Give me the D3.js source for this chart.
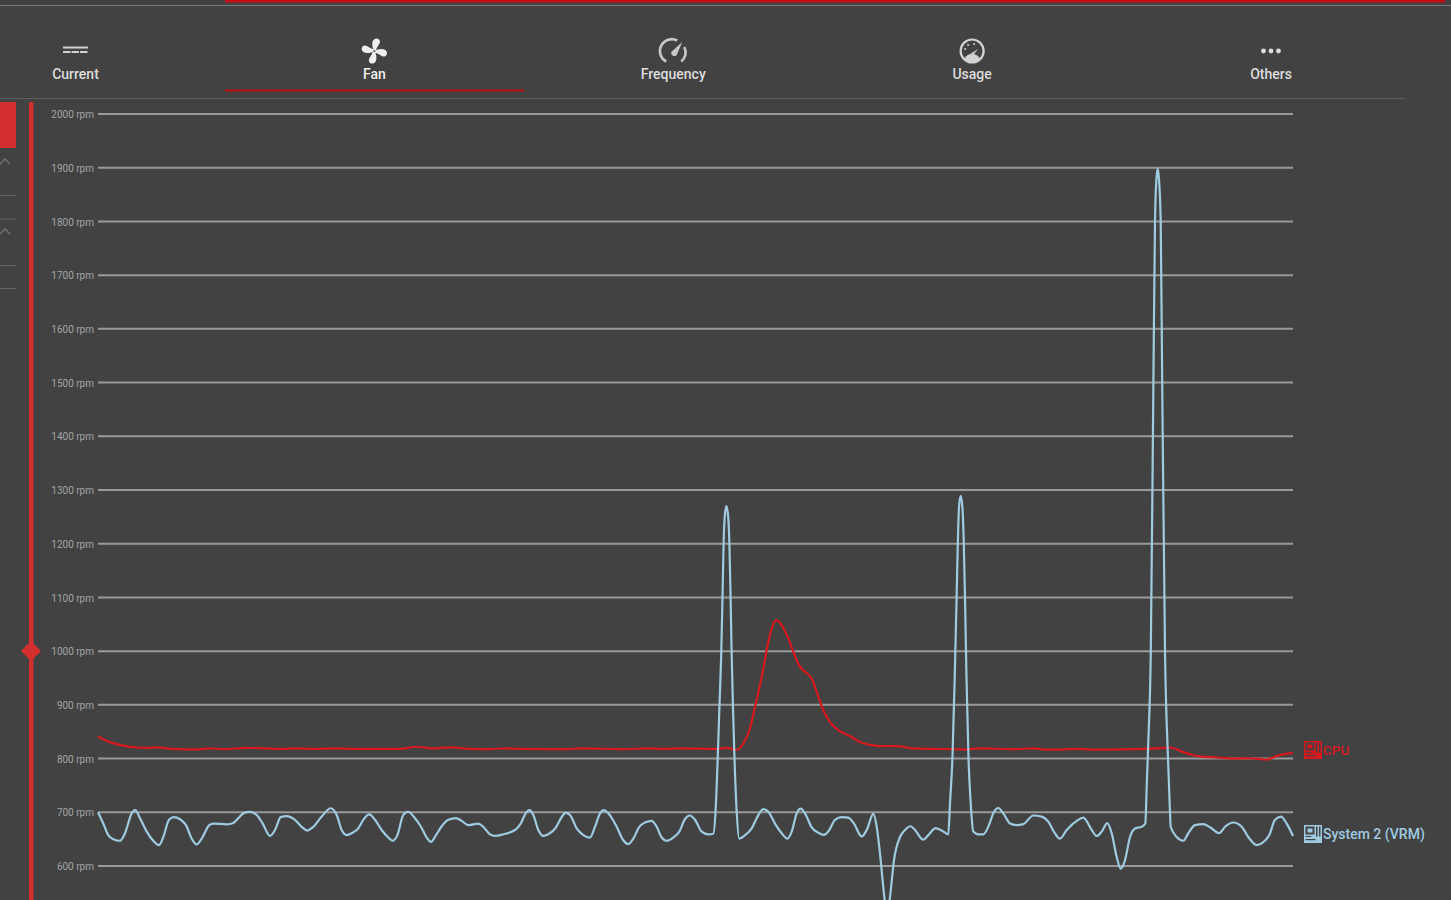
<!DOCTYPE html>
<html><head><meta charset="utf-8">
<script src="https://cdn.jsdelivr.net/npm/d3@7"></script>
<style>
html,body{margin:0;padding:0;background:#424242;overflow:hidden}
svg{display:block;font-family:Roboto,sans-serif}
</style></head><body><svg id="c" width="1451" height="900"></svg>
<script>
const tabLabels=["Current","Fan","Frequency","Usage","Others"];
const rpmTicks=[600,700,800,900,1000,1100,1200,1300,1400,1500,1600,1700,1800,1900,2000];
const seriesNames=["CPU","System 2 (VRM)"];
const seriesColors=["#d7191f","#9fcbe1"];
const seriesLastRpm=[810.6,656];
const cpuReadings=[[0,841],[12,830.6],[25.3,824],[38.7,820.6],[48.7,820],[60.3,821],[73.7,818],[98.7,817],[110.3,819],[125.3,817.5],[148.7,820],[185,818],[198.7,819],[215,818],[237,819],[259,818],[302,818],[318.7,822],[333.7,819],[352,821],[372,818],[392,817.5],[407,819],[422,818],[468.7,817.5],[482,819],[528.7,817.5],[548.7,819],[565.3,818],[582,819],[618.7,818],[628.7,820],[638.7,816],[645.3,828],[652,856],[657,896],[663.7,952],[670.3,1017],[674.7,1048],[678.7,1058],[683.7,1048],[690.3,1024],[695.3,999],[701.3,973],[707,961.5],[713.7,949],[719.3,921],[725.3,890],[732,868],[740.3,853],[752,842],[762,831],[772,825.6],[783.7,823],[800.3,823],[815.3,819],[852,817.5],[868.7,817],[878.7,819],[918.7,817.5],[935,819],[950,816.5],[982,818],[998.7,816.5],[1022,817],[1062,819.4],[1072,820.6],[1085.3,812],[1102,804],[1118.7,802],[1135,800],[1152,800.6],[1168.7,798],[1178.7,805],[1195,810.6]];
const vrmReadings=[[0,700],[5.3,679],[10.3,657.5],[15.3,650],[22,647],[27,661],[33.7,698],[37.3,704],[42,689],[48.7,664],[55.3,647],[61,639],[65.3,654],[71,686],[76,691],[82,687],[88,676],[93.7,651],[98.7,640],[103.7,651],[111.3,676],[115.3,679],[128.7,677.5],[135.3,680],[140.3,689],[146,699],[152,700.6],[158.7,695],[164.7,679],[172,656],[177,667],[182.7,691],[188.7,693],[197,686],[203.7,673],[209.3,666],[214.7,672],[223.7,692],[232.7,707.5],[238.7,695],[243.7,667],[248.7,657.5],[253.7,661],[260.3,670],[265.3,686],[271.3,696],[277,686],[283.7,667],[290.3,653],[294.7,647],[299.3,657],[305.3,695],[310,701],[317,689],[322.7,674],[328.7,653],[333,645],[338,657.5],[343.7,674],[350.3,686],[358,689],[363.7,684],[370.3,676],[380.3,679],[385.3,673],[392,659],[397,656],[405.3,659],[417,667],[422.7,679],[428,699],[431.3,704],[435.3,695],[440.3,667],[445.3,656],[450.3,659],[458,672],[462,686],[467.7,699],[472,695],[478.7,670],[485.3,657.5],[492,653],[497,673],[502,698],[506,704],[510.3,698],[518.7,673],[525.3,648],[530.3,641],[535.3,651],[541.3,673],[547,681],[553.7,684],[558.7,673],[563.7,653],[568.7,647],[575.3,653],[581.3,664],[587,687.5],[592,694],[597,686],[603.7,664],[610.3,659],[615.3,660],[617.5,700],[619.7,800],[621.5,900],[623.3,1000],[624.5,1100],[625.6,1200],[626.7,1250],[628.4,1270],[630.2,1250],[631.4,1200],[632.6,1100],[633.6,1000],[634.9,900],[636.5,800],[638.7,700],[641.3,651],[647,657.5],[653.7,670],[658.7,689],[665.3,706],[670.3,701],[677,679],[683.7,661],[689.3,651],[693.7,664],[698.7,698],[702.7,707],[707,698],[713.7,672],[720.3,662],[726,658],[731.3,667],[737,686],[743.7,691],[750.3,690],[756,679],[763.7,655],[768.7,667],[775.3,697],[778.7,673],[782,623],[786,548],[789,505],[792,542],[796,611],[802,654],[807,667],[812.7,674],[817,667],[825.3,649],[830.3,657.5],[837.7,670.6],[843.7,666],[850.3,659],[852,717],[854.5,804],[856.7,950],[858.6,1100],[859.8,1200],[861,1268],[862.7,1289],[864.4,1268],[865.8,1200],[867,1100],[868.5,950],[870.5,800],[872.7,717],[875.3,664],[880.3,659],[885.3,659],[890.3,673],[896,701],[900.3,708],[905.3,698],[912,679],[918.3,676],[925.3,678],[935.3,694],[943.7,692],[950.3,682.5],[957,660.6],[962,651],[968.7,667],[978.7,684],[985.3,690],[993.7,667],[998.7,656],[1003.7,664],[1009.3,680],[1013.7,661],[1018.7,617],[1022.7,595],[1027,611],[1032,654],[1037,670],[1043.7,673],[1047.3,679],[1048.7,748],[1050.3,830],[1052.8,1000],[1055.4,1500],[1057,1800],[1058.4,1878],[1059.7,1898],[1061,1878],[1062.7,1800],[1064.2,1500],[1067,1000],[1070,800],[1072,700],[1072.7,673],[1078.7,654],[1085.3,647],[1090.3,661],[1097,676],[1105.3,678],[1112,672],[1121.3,661],[1127,673],[1135.3,681],[1143.7,673],[1150.3,654],[1158.7,639],[1163.7,642],[1171.3,657.5],[1177,686],[1183,692],[1188.7,679],[1195,656]];

const svg=d3.select("#c");
const W=1451,H=900,L=98,R=1293;
const x=d3.scaleLinear().domain([0,1195]).range([L,R]);
const y=d3.scaleLinear().domain([600,2000]).range([866,114]);
const RED="#d32f2f",DARK="#c40c12",BG="#424242";

// chrome
svg.append("rect").attr("width",W).attr("height",H).attr("fill",BG);
svg.append("rect").attr("x",0).attr("y",5).attr("width",W).attr("height",1).attr("fill","#7d7d7d");
svg.append("rect").attr("x",225).attr("y",0).attr("width",1220).attr("height",2.5).attr("fill",DARK);
svg.append("rect").attr("x",225).attr("y",89.5).attr("width",299).attr("height",2).attr("fill",DARK);
svg.append("rect").attr("x",0).attr("y",98).attr("width",1405).attr("height",1).attr("fill","#5e5e5e");
svg.append("rect").attr("x",0).attr("y",102).attr("width",16).attr("height",46).attr("fill",RED);
svg.append("rect").attr("x",29).attr("y",102).attr("width",4.5).attr("height",798).attr("fill",RED);
svg.append("path").attr("d","M31 641 L41 651 L31 661 L21 651Z").attr("fill",RED);
[195,218.5,265,288].forEach(v=>svg.append("rect").attr("x",0).attr("y",v).attr("width",16).attr("height",1).attr("fill","#636363"));
[161,231].forEach(v=>svg.append("path").attr("d",`M0 ${v+3}L5 ${v-2}L10 ${v+3}`).attr("fill","none").attr("stroke","#757575").attr("stroke-width",1.3));

// tabs
const tabX=d3.scalePoint().domain(tabLabels).range([75.5,1271]);
const tabs=svg.append("g").selectAll("g").data(tabLabels).join("g").attr("transform",d=>`translate(${tabX(d)},0)`);
tabs.append("text").attr("y",79).attr("text-anchor","middle").attr("font-size",14).attr("font-weight",500)
  .attr("fill",d=>d==="Fan"?"#f0f0f0":"#dcdcdc").text(d=>d);
const ic=n=>svg.append("g").attr("transform",`translate(${tabX(n)},51)`);
// Current
const c0=ic("Current").attr("fill","#d0d0d0");
c0.append("rect").attr("x",-12.5).attr("y",-4.5).attr("width",25).attr("height",2);
[-12.5,-4,4.5].forEach(v=>c0.append("rect").attr("x",v).attr("y",0).attr("width",7.5).attr("height",2));
// Fan
const f=ic("Fan").attr("fill","#efefef");
[0,90,180,270].forEach(a=>f.append("path").attr("transform",`rotate(${a})`)
  .attr("d","M0 0 C-2 -3 -3 -8 -1 -11 C1 -13.5 5 -13 5.5 -10 C6 -7 2.5 -5 1.5 0 Z"));
f.append("circle").attr("r",1).attr("fill",BG);
// Frequency
const g1=ic("Frequency");
g1.append("path").attr("d","M-7 10.5 A11.5 11.5 0 0 1 4 -10.5").attr("fill","none").attr("stroke","#c8c8c8").attr("stroke-width",2.6);
g1.append("path").attr("d","M8 10.5 A11.5 11.5 0 0 0 11 -4").attr("fill","none").attr("stroke","#c8c8c8").attr("stroke-width",2.6);
g1.append("path").attr("d","M9 -9 L3.5 4 A3.2 3.2 0 0 1 -2 1 Z").attr("fill","#c8c8c8");
// Usage
const g2=ic("Usage");
g2.append("circle").attr("r",11.5).attr("fill","none").attr("stroke","#d2d2d2").attr("stroke-width",2.2);
g2.append("path").attr("d","M-8 8 A11 11 0 0 0 8 8 A9 9 0 0 0 -8 8Z").attr("fill","#d2d2d2");
g2.append("path").attr("d","M-2 3 L6 -2 L1 4Z").attr("fill","#d2d2d2");
[[-7,-2],[-4,-6],[2,-7]].forEach(p=>g2.append("circle").attr("cx",p[0]).attr("cy",p[1]).attr("r",1).attr("fill","#d2d2d2"));
// Others
const g3=ic("Others").attr("fill","#dcdcdc");
[-7.5,0,7.5].forEach(v=>g3.append("circle").attr("cx",v).attr("cy",0).attr("r",2.4));

// grid + axis
const axis=d3.axisLeft(y).tickValues(rpmTicks).tickFormat(d=>d+" rpm").tickSize(-(R-L)).tickPadding(4).offset(0);
const ax=svg.append("g").attr("transform",`translate(${L},0)`).call(axis);
ax.select(".domain").remove();
ax.selectAll("line").attr("stroke","#9a9a9a").attr("stroke-width",2);
ax.selectAll("text").attr("fill","#a4a4a4").attr("font-size",10).attr("font-family","Roboto,sans-serif").attr("dy","0.42em");

// lines
const line=d3.line().x(d=>x(d[0])).y(d=>y(d[1])).curve(d3.curveMonotoneX);
[cpuReadings,vrmReadings].forEach((r,i)=>svg.append("path").datum(r).attr("d",line)
  .attr("fill","none").attr("stroke",seriesColors[i]).attr("stroke-width",2.2).attr("stroke-linejoin","round"));

// legend
const lg=svg.append("g").selectAll("g").data(seriesNames).join("g")
  .attr("transform",(d,i)=>`translate(${R+11},${Math.round(y(seriesLastRpm[i]))-3+i})`);
lg.each(function(d,i){
  const g=d3.select(this),col=seriesColors[i];
  g.append("rect").attr("x",0).attr("y",-9).attr("width",18).attr("height",18).attr("fill",col);
  [[1.5,-7.5,9,8],[12,-7.5,1.5,10],[15,-7.5,1.5,10],[1.5,2,6,1],[1.5,5,10,1.2]].forEach(p=>
    g.append("rect").attr("x",p[0]).attr("y",p[1]).attr("width",p[2]).attr("height",p[3]).attr("fill",BG));
  g.append("rect").attr("x",3.5).attr("y",-5.5).attr("width",5).attr("height",4).attr("fill",col);
  g.append("text").attr("x",19).attr("y",5).attr("font-size",i?14:13.5).attr("font-weight",500).attr("fill",col).text(d);
});
</script></body></html>
